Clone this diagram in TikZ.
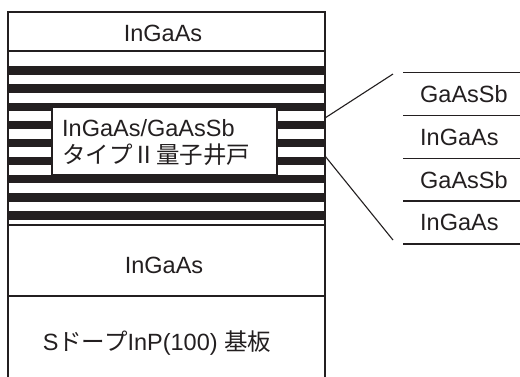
\documentclass[tikz,border=0pt]{standalone}
\usepackage{fontspec}
\setmainfont{Liberation Sans}
\newfontfamily\jp{Noto Sans CJK JP}
\definecolor{ink}{RGB}{35,31,32}
\begin{document}
\begin{tikzpicture}[x=1pt,y=-1pt,
  every node/.style={inner sep=0pt, text=ink},
  lbl/.style={font=\fontsize{23.5}{27}\selectfont},
  edge/.style={draw=ink, line width=1.5pt},
  thin/.style={draw=ink, line width=1.1pt},
  band/.style={fill=ink}]
\useasboundingbox (0,0) rectangle (520,376);
\fill[white] (0,0) rectangle (520,376);
% stripes
\foreach \k in {0,...,8}
  \fill[band] (8,{66.3+18.1*\k}) rectangle (325,{74.8+18.1*\k});
% main outline
\draw[edge] (8,377) -- (8,12) -- (325,12) -- (325,377);
\draw[edge] (8,51) -- (325,51);
\draw[edge] (8,225) -- (325,225);
\draw[edge] (8,296) -- (325,296);
% inner label box
\node[thin, fill=white, minimum width=225pt, minimum height=68pt] (qw) at (164.5,141) {};
\node[lbl, anchor=west, align=left] (qwt) at (62,143) {InGaAs/GaAsSb\\{\jp タイプⅡ量子井戸}};
% layer labels
\node[lbl] (t1) at (163,33) {InGaAs};
\node[lbl] (t2) at (164,265.5) {InGaAs};
\node[lbl] (t3) at (157,343.5) {S{\jp ドープ}InP(100) {\jp 基板}};
% right legend
\foreach \y/\n in {72.7/a,115.7/b,158.3/c,201/d,244/e}
  \draw[edge] (403,\y) coordinate (\n l) -- (521,\y) coordinate (\n r);
\node[lbl, anchor=west] (r1) at (420,94) {GaAsSb};
\node[lbl, anchor=west] (r2) at (420,137) {InGaAs};
\node[lbl, anchor=west] (r3) at (420,180) {GaAsSb};
\node[lbl, anchor=west] (r4) at (420,222.5) {InGaAs};
% connectors
\coordinate (p1) at (325,118);
\coordinate (q1) at (393,74);
\coordinate (p2) at (325,156);
\coordinate (q2) at (393,240);
\draw[thin] (p1) -- (q1);
\draw[thin] (p2) -- (q2);
\end{tikzpicture}
\end{document}
